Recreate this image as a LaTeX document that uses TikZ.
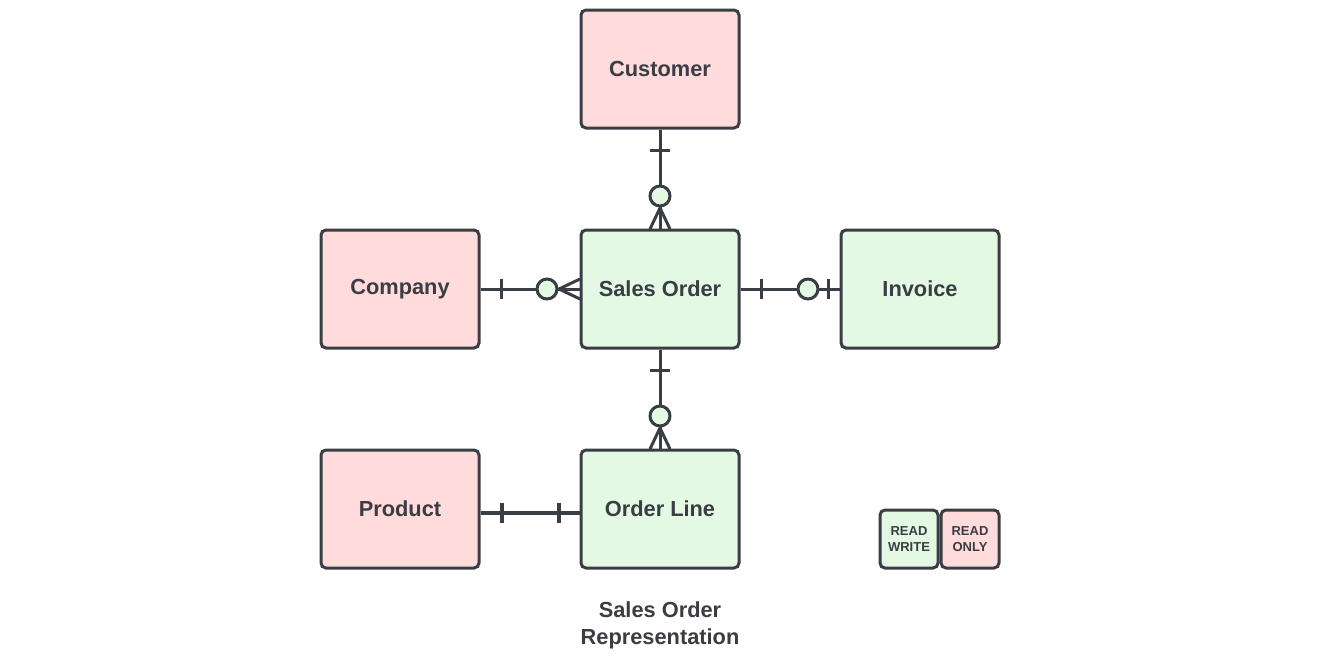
\documentclass[tikz,border=0pt]{standalone}
\usepackage{fontspec}
\setmainfont{Liberation Sans}
\definecolor{ink}{HTML}{3A3D44}
\definecolor{pinkf}{HTML}{FFDBDB}
\definecolor{greenf}{HTML}{E3F9E3}
\begin{document}
\begin{tikzpicture}[x=1pt,y=-1pt,
  ent/.style={draw=ink,line width=3pt,rounded corners=5pt,minimum width=158pt,minimum height=118pt,inner sep=0pt,font=\bfseries\fontsize{21.8}{26}\selectfont,text=ink},
  ro/.style={ent,fill=pinkf},
  rw/.style={ent,fill=greenf},
  leg/.style={draw=ink,line width=3pt,rounded corners=5pt,minimum width=58pt,minimum height=58pt,inner sep=0pt,align=center,font=\bfseries\fontsize{13}{16}\selectfont,text=ink},
  conn/.style={draw=ink,line width=3pt},
  circ/.style={draw=ink,line width=3pt,fill=greenf}
]
\useasboundingbox (0,0) rectangle (1328,659);
\node[ro] (cust) at (660,69) {Customer};
\node[ro] (comp) at (400,289) {Company};
\node[rw] (so) at (660,289) {Sales Order};
\node[rw] (inv) at (920,289) {Invoice};
\node[ro] (prod) at (400,509) {Product};
\node[rw] (ol) at (660,509) {Order Line};
\node[leg,fill=greenf] (lrw) at (909,539) {READ\\WRITE};
\node[leg,fill=pinkf] (lro) at (970,539) {READ\\ONLY};
\node[font=\bfseries\fontsize{21.8}{27}\selectfont,text=ink,align=center] (title) at (660,625) {Sales Order\\Representation};

% Customer - Sales Order
\draw[conn] (cust.south) -- (so.north);
\draw[conn] (650,150) -- (670,150);
\draw[conn] (660,208) -- (650,229);
\draw[conn] (660,208) -- (670,229);
\draw[circ] (660,196) circle (10);
% Company - Sales Order
\draw[conn] (comp.east) -- (so.west);
\draw[conn] (501,279) -- (501,299);
\draw[conn] (559,289) -- (580,279);
\draw[conn] (559,289) -- (580,299);
\draw[circ] (547,289) circle (10);
% Sales Order - Invoice
\draw[conn] (so.east) -- (inv.west);
\draw[conn] (761,279) -- (761,299);
\draw[conn] (828,279) -- (828,299);
\draw[circ] (808,289) circle (10);
% Sales Order - Order Line
\draw[conn] (so.south) -- (ol.north);
\draw[conn] (650,370) -- (670,370);
\draw[conn] (660,428) -- (650,449);
\draw[conn] (660,428) -- (670,449);
\draw[circ] (660,416) circle (10);
% Product - Order Line
\draw[draw=ink,line width=4pt] (prod.east |- 0,513) -- (ol.west |- 0,513);
\draw[draw=ink,line width=4pt] (502,503) -- (502,523);
\draw[draw=ink,line width=4pt] (559,503) -- (559,523);
\end{tikzpicture}
\end{document}
